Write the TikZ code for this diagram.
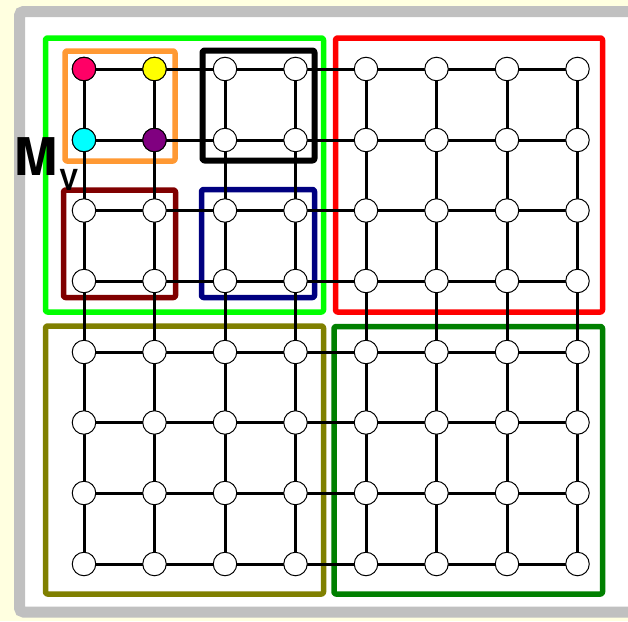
\documentclass[tikz,border=0pt]{standalone}
\usepackage{fontspec}
\setmainfont{TeX Gyre Heros}
\definecolor{bgyellow}{HTML}{FFFFE0}
\definecolor{framegray}{HTML}{C0C0C0}
\definecolor{limegreen}{HTML}{00FF00}
\definecolor{boxorange}{HTML}{FF9933}
\definecolor{boxmaroon}{HTML}{800000}
\definecolor{boxnavy}{HTML}{000080}
\definecolor{boxred}{HTML}{FF0000}
\definecolor{boxolive}{HTML}{808000}
\definecolor{boxgreen}{HTML}{008000}
\definecolor{qpink}{HTML}{FF0066}
\definecolor{qyellow}{HTML}{FFFF00}
\definecolor{qcyan}{HTML}{00FFFF}
\definecolor{qpurple}{HTML}{800080}
\tikzset{
  qnode/.style={circle, draw=black, line width=1pt, fill=white, minimum size=23.5pt, inner sep=0pt},
  link/.style={draw=black, line width=3pt},
  region/.style={line width=5.5pt, rounded corners=2pt, line join=round},
}
\begin{document}
\begin{tikzpicture}[x=1pt,y=-1pt]
\useasboundingbox (0,0) rectangle (628,621);
\fill[bgyellow] (0,0) rectangle (628,621);
\draw[framegray, line width=11pt, fill=white, rounded corners=4pt] (19.5,11.5) rectangle (634,612);

% region boxes
\draw[region, limegreen] (45.5,38) rectangle (323.5,312);
\draw[region, boxorange] (65,51) rectangle (175,161);
\draw[region, black, line width=6pt] (202.5,50.5) rectangle (314.5,160.5);
\draw[region, boxmaroon] (63.5,190) rectangle (175.5,297.5);
\draw[region, boxnavy] (201.5,189.5) rectangle (314.5,297.5);
\draw[region, boxred] (335.5,38) rectangle (602.5,312);
\draw[region, boxolive] (45.5,326) rectangle (323.5,594);
\draw[region, boxgreen] (334,326.5) rectangle (602.5,594);

% node positions
\def\xs{{84,154.5,225,295.5,366,436.5,507,577.5}}
\def\ys{{69,140,210.5,281,352,422.5,493,564}}
\foreach \r in {0,...,7}{
  \foreach \c in {0,...,7}{
    \pgfmathsetmacro{\px}{\xs[\c]}
    \pgfmathsetmacro{\py}{\ys[\r]}
    \coordinate (p-\r-\c) at (\px,\py);
  }
}
% edges
\foreach \r in {0,...,7}{
  \foreach \c [evaluate=\c as \cn using int(\c+1)] in {0,...,6}{
    \draw[link] (p-\r-\c) -- (p-\r-\cn);
  }
}
\foreach \c in {0,...,7}{
  \foreach \r [evaluate=\r as \rn using int(\r+1)] in {0,...,6}{
    \draw[link] (p-\r-\c) -- (p-\rn-\c);
  }
}
% nodes
\foreach \r in {0,...,7}{
  \foreach \c in {0,...,7}{
    \node[qnode] (n-\r-\c) at (p-\r-\c) {};
  }
}
\node[qnode, fill=qpink] at (p-0-0) {};
\node[qnode, fill=qyellow] at (p-0-1) {};
\node[qnode, fill=qcyan] at (p-1-0) {};
\node[qnode, fill=qpurple] at (p-1-1) {};

% label
\node[anchor=base west, inner sep=0pt, font=\fontsize{52}{52}\selectfont\bfseries] (mlabel) at (14,175.5) {M};
\node[anchor=base west, inner sep=0pt, font=\fontsize{29}{29}\selectfont\bfseries] (vlabel) at (59,190.5) {V};
\end{tikzpicture}
\end{document}
